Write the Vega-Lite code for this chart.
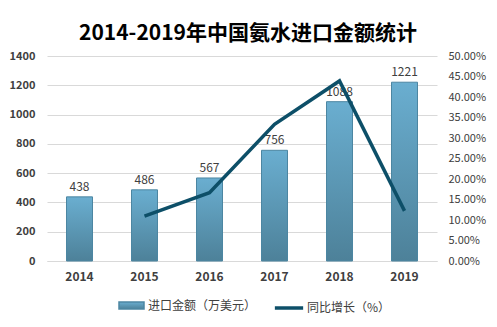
{
  "$schema": "https://vega.github.io/schema/vega-lite/v6.json",
  "width": 390,
  "height": 205,
  "autosize": {"type": "none"},
  "padding": {"left": 47, "top": 56, "right": 60, "bottom": 66},
  "background": "white",
  "title": {"text": "2014-2019年中国氨水进口金额统计", "font": "Noto Sans CJK SC", "fontSize": 21, "fontWeight": "bold", "color": "#000000", "anchor": "middle", "offset": 6, "dx": 6},
  "config": {"view": {"stroke": null}, "font": "Noto Sans CJK SC"},
  "data": {"values": [
    {"year": "2014", "amount": 438, "growth": null, "s1": "进口金额（万美元）", "s2": "同比增长（%）"},
    {"year": "2015", "amount": 486, "growth": 0.1096, "s1": "进口金额（万美元）", "s2": "同比增长（%）"},
    {"year": "2016", "amount": 567, "growth": 0.1667, "s1": "进口金额（万美元）", "s2": "同比增长（%）"},
    {"year": "2017", "amount": 756, "growth": 0.3333, "s1": "进口金额（万美元）", "s2": "同比增长（%）"},
    {"year": "2018", "amount": 1088, "growth": 0.4392, "s1": "进口金额（万美元）", "s2": "同比增长（%）"},
    {"year": "2019", "amount": 1221, "growth": 0.1222, "s1": "进口金额（万美元）", "s2": "同比增长（%）"}
  ]},
  "encoding": {
    "x": {"field": "year", "type": "ordinal", "scale": {"paddingInner": 0.6, "paddingOuter": 0.3},
      "axis": {"title": null, "labelAngle": 0, "labelFontWeight": "bold", "labelFontSize": 12, "labelColor": "#404040", "labelPadding": 10, "ticks": false, "domain": true, "domainColor": "#d9d9d9"}}
  },
  "layer": [
    {
      "encoding": {
        "y": {"field": "amount", "type": "quantitative", "scale": {"domain": [0, 1400]},
          "axis": {"title": null, "values": [0, 200, 400, 600, 800, 1000, 1200, 1400], "format": "d", "labelFontWeight": "bold", "labelFontSize": 11, "labelColor": "#404040", "labelPadding": 12, "domain": false, "ticks": false, "grid": true, "gridColor": "#d9d9d9"}}
      },
      "layer": [
        {
          "mark": {"type": "bar", "fill": {"gradient": "linear", "x1": 0, "y1": 0, "x2": 0, "y2": 1, "stops": [{"offset": 0, "color": "#6aaed0"}, {"offset": 1, "color": "#4d8199"}]}, "strokeWidth": 1},
          "encoding": {
            "stroke": {"field": "s1", "type": "nominal", "scale": {"range": ["#4c86a2"]},
              "legend": {"title": null, "orient": "none", "legendX": 71, "legendY": 236, "symbolType": "M-1,-0.28H1V0.28H-1Z", "symbolSize": 625, "symbolFillColor": "#5b9bbb", "labelFontSize": 12, "labelColor": "#404040", "labelFont": "Noto Sans CJK SC", "labelOffset": 3}}
          }
        },
        {
          "mark": {"type": "text", "dy": -10, "fontSize": 12, "color": "#404040"},
          "encoding": {"text": {"field": "amount", "type": "quantitative"}}
        }
      ]
    },
    {
      "mark": {"type": "line", "strokeWidth": 3.5},
      "encoding": {
        "y": {"field": "growth", "type": "quantitative", "scale": {"domain": [0, 0.5]},
          "axis": {"orient": "right", "title": null, "values": [0, 0.05, 0.1, 0.15, 0.2, 0.25, 0.3, 0.35, 0.4, 0.45, 0.5], "format": ".2%", "labelFontSize": 11, "labelColor": "#404040", "labelPadding": 11, "domain": false, "ticks": false, "grid": false}},
        "stroke": {"field": "s2", "type": "nominal", "scale": {"range": ["#0d4f68"]},
          "legend": {"title": null, "orient": "none", "legendX": 226, "legendY": 236, "symbolType": "stroke", "symbolSize": 800, "symbolStrokeWidth": 3.5, "labelFontSize": 12, "labelColor": "#404040", "labelFont": "Noto Sans CJK SC", "labelOffset": 2}}
      }
    }
  ],
  "resolve": {"scale": {"y": "independent", "stroke": "independent"}}
}
